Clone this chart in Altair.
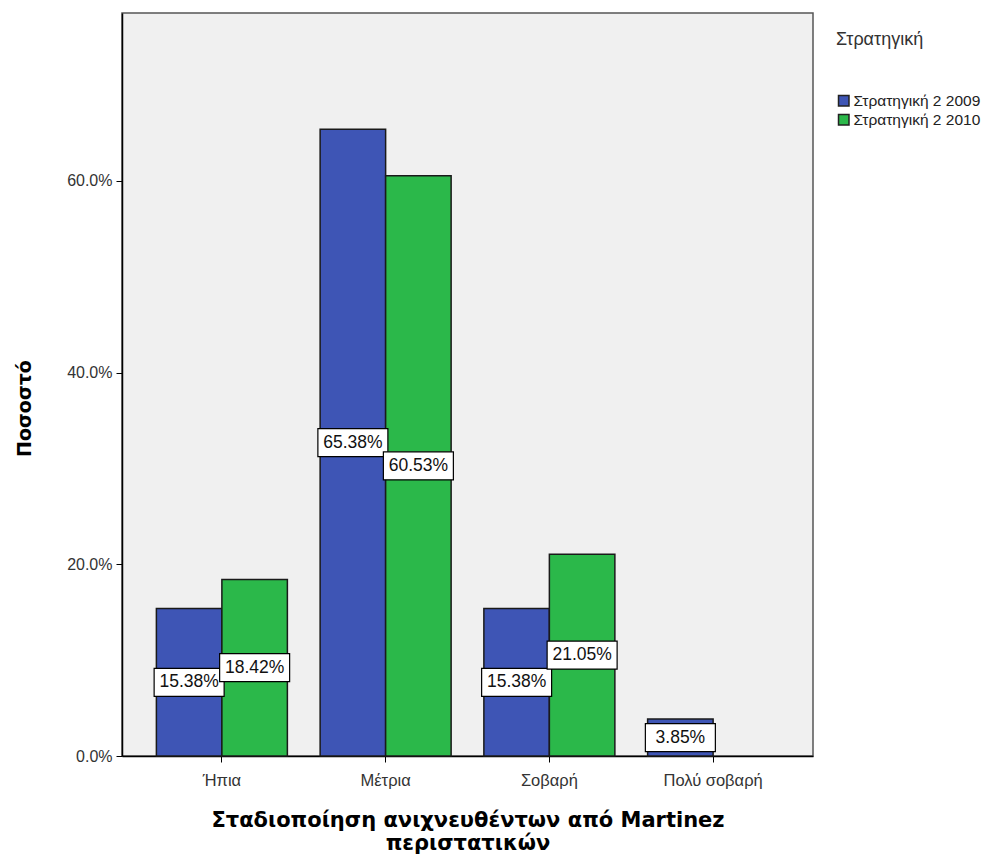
import altair as alt
import pandas as pd

categories = ["Ήπια", "Μέτρια", "Σοβαρή", "Πολύ σοβαρή"]
series_names = ["Στρατηγική 2 2009", "Στρατηγική 2 2010"]
values_2009 = [15.38, 65.38, 15.38, 3.85]
values_2010 = [18.42, 60.53, 21.05, None]
colors = ["#3E55B5", "#2BB84A"]

rows = []
for cat, v in zip(categories, values_2009):
    if v is not None:
        rows.append({"cat": cat, "series": series_names[0], "value": v / 100})
for cat, v in zip(categories, values_2010):
    if v is not None:
        rows.append({"cat": cat, "series": series_names[1], "value": v / 100})
df = pd.DataFrame(rows)

FONT = "Liberation Sans"
TITLE_FONT = "DejaVu Sans"

x_enc = alt.X("cat:N", sort=categories,
              scale=alt.Scale(paddingInner=0.2, paddingOuter=0.21),
              axis=alt.Axis(title=["Σταδιοποίηση ανιχνευθέντων από Martinez", "περιστατικών"],
                            labelAngle=0, tickSize=6, labelPadding=10,
                            titlePadding=21, titleFontSize=21, titleFontWeight="bold",
                            titleFont=TITLE_FONT, titleLineHeight=23,
                            titleColor="#000", labelColor="#333", labelFontSize=16.5,
                            domainColor="#000", tickColor="#000", domainWidth=1.5))
xoff = alt.XOffset("series:N", sort=series_names,
                   scale=alt.Scale(paddingInner=0, paddingOuter=0))

y_scale = alt.Scale(domain=[0, 0.775], nice=False)

base = alt.Chart(df)

bars = base.mark_bar(stroke="#1a1a1a", strokeWidth=1.5).encode(
    x=x_enc,
    xOffset=xoff,
    y=alt.Y("value:Q", scale=y_scale,
            axis=alt.Axis(title="Ποσοστό", values=[0, 0.2, 0.4, 0.6], format=".1%",
                          grid=False, tickSize=6, labelPadding=4,
                          labelColor="#333", labelFontSize=16,
                          titleFontSize=19, titleFontWeight="bold", titleColor="#000",
                          titleFont=TITLE_FONT,
                          titleX=-88, titleY=395,
                          domainColor="#000", tickColor="#000", domainWidth=1.5)),
    color=alt.Color("series:N", sort=series_names,
                    scale=alt.Scale(domain=series_names, range=colors),
                    legend=alt.Legend(title="Στρατηγική", orient="none",
                                      legendX=714, legendY=18,
                                      titleFontSize=18, titleFontWeight="normal",
                                      titleColor="#333", titlePadding=44,
                                      labelFontSize=15.5, labelColor="#222",
                                      labelLimit=200,
                                      symbolType="square", symbolSize=110,
                                      symbolStrokeColor="#222", symbolStrokeWidth=1.5,
                                      rowPadding=1, labelOffset=2)),
)

mid = base.transform_calculate(mid="datum.value / 2")

boxes = mid.mark_point(
    shape="M-1,-0.4L1,-0.4L1,0.4L-1,0.4Z", size=4900, filled=True,
    fill="white", stroke="#000", strokeWidth=1.2, opacity=1,
).encode(x=alt.X("cat:N", sort=categories), xOffset=xoff,
         y=alt.Y("mid:Q", scale=y_scale))

labels = mid.mark_text(fontSize=17.5, color="#111", font=FONT).encode(
    x=alt.X("cat:N", sort=categories), xOffset=xoff,
    y=alt.Y("mid:Q", scale=y_scale),
    text=alt.Text("value:Q", format=".2%"),
)

chart = alt.layer(bars, boxes, labels).properties(
    width=691, height=743,
    autosize=alt.AutoSizeParams(type="none"),
    padding={"left": 114, "top": 5, "right": 178, "bottom": 99},
).configure(font=FONT).configure_view(
    fill="#F0F0F0", stroke="#555", strokeWidth=1.5
)

chart.save("out.html", embed_options={"renderer": "svg", "actions": False})
